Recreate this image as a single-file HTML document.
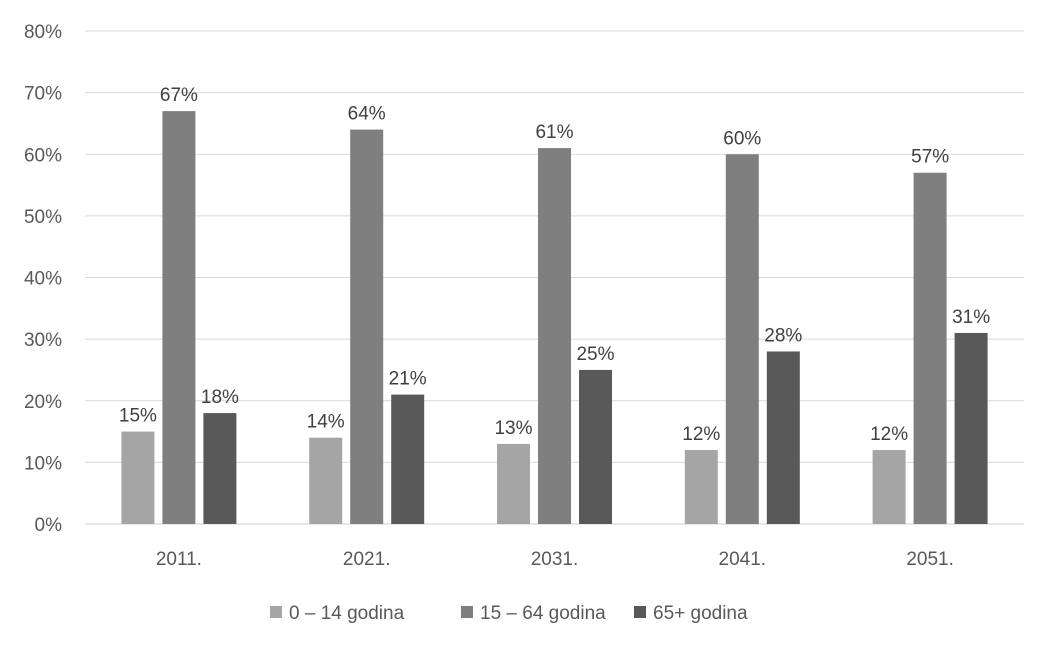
<!DOCTYPE html>
<html><head><meta charset="utf-8"><style>
body{margin:0;background:#fff;}
svg{display:block;font-family:"Liberation Sans",sans-serif;}
</style></head><body>
<svg id="chart" width="1054" height="652"></svg>
<script>
const categories=["2011.","2021.","2031.","2041.","2051."];
const series0=[15,14,13,12,12];
const series1=[67,64,61,60,57];
const series2=[18,21,25,28,31];
const seriesNames=["0 – 14 godina","15 – 64 godina","65+ godina"];
const yTicks=[0,10,20,30,40,50,60,70,80];
const colors=["#a5a5a5","#7f7f7f","#595959"];
const NS="http://www.w3.org/2000/svg";
const svg=document.getElementById("chart");
const x0=85,x1=1024,y0=524,y1=31,yMax=80;
const y=v=>y0-(v/yMax)*(y0-y1);
const band=(x1-x0)/categories.length;
const cx=i=>x0+band*(i+0.5);
const bw=33,gap=8;
function mk(tag,attrs,txt){const e=document.createElementNS(NS,tag);for(const k in attrs)e.setAttribute(k,attrs[k]);if(txt!==undefined)e.textContent=txt;svg.appendChild(e);return e;}
yTicks.forEach(t=>{
 const g=mk("line",{x1:x0,x2:x1,y1:y(t),y2:y(t),stroke:t===0?"#d0d0d0":"#d9d9d9","stroke-width":1});
 
 
 const l=mk("text",{x:62,y:y(t)+7,"text-anchor":"end","font-size":19,fill:"#595959"},t+"%");
 
 
});
const all=[series0,series1,series2];
categories.forEach((c,i)=>{
 all.forEach((s,k)=>{
  const bx=cx(i)+(k-1)*(bw+gap)-bw/2;
  const r=mk("rect",{x:bx,y:y(s[i]),width:bw,height:y0-y(s[i]),fill:colors[k]});
  
  
  const t=mk("text",{x:bx+bw/2,y:y(s[i])-10,"text-anchor":"middle","font-size":19,fill:"#404040"},s[i]+"%");
  
  
 });
 const xl=mk("text",{x:cx(i),y:565,"text-anchor":"middle","font-size":19,fill:"#595959"},c);
 
 
});
const lx=[270,461,634];
seriesNames.forEach((n,k)=>{
 const s=mk("rect",{x:lx[k],y:606,width:12,height:12,fill:colors[k]});
 
 
 const t=mk("text",{x:lx[k]+19,y:619,"font-size":19,fill:"#595959"},n);
 
 
});
</script>
</body></html>
